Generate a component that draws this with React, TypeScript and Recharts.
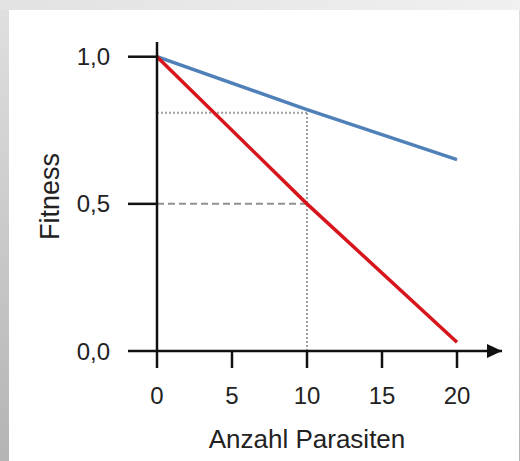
import React from 'react';
import { LineChart, Line, XAxis, YAxis, ReferenceLine, ReferenceDot, Label } from 'recharts';

// Anzahl Parasiten (x) und Fitness der beiden Wirte
const parasites = [0, 10, 20];
const fitnessTolerant = [1.0, 0.82, 0.65];
const fitnessSensitive = [1.0, 0.5, 0.03];

const xTicks = [0, 5, 10, 15, 20];
const yTicks = [0, 0.5, 1.0];
const yTickLabels = ['0,0', '0,5', '1,0'];

// Markierung bei 10 Parasiten
const markX = 10;
const markHigh = 0.81;
const markLow = 0.5;

const X_MAX = 23;
const Y_MAX = 1.05;

const FONT = '"Liberation Sans", Arial, Helvetica, sans-serif';
const AXIS = '#111';

const data = parasites.map((p, i) => ({
  x: p,
  tolerant: fitnessTolerant[i],
  sensitive: fitnessSensitive[i],
}));

const Arrow = (props: any) => {
  const { cx, cy } = props;
  return <polygon points={`${cx},${cy} ${cx - 15},${cy - 7} ${cx - 15},${cy + 7}`} fill={AXIS} />;
};

const XTitle = (props: any) => {
  const vb = props.viewBox;
  const x = vb.x + (vb.width * 10) / X_MAX;
  return (
    <text x={x} y={vb.y + 90} textAnchor="middle" dominantBaseline="middle" fontSize={26} fill="#222" fontFamily={FONT}>
      Anzahl Parasiten
    </text>
  );
};

export default function App() {
  return (
    <div style={{ position: 'absolute', left: 0, top: 0, width: 520, height: 461, background: 'linear-gradient(to bottom, #e0e0e0, #b4b4b4)' }}>
      <div style={{ position: 'absolute', left: 0, top: 0, width: 520, height: 10, background: 'linear-gradient(to right, #e2e2e2, #f0f0f0)' }} />
      <div style={{ position: 'absolute', left: 9, top: 10, width: 510, height: 451, background: '#fff' }} />
      <div style={{ position: 'absolute', left: 0, top: 0 }}>
        <LineChart width={520} height={461} data={data} margin={{ top: 42, right: 18, bottom: 0, left: 0 }}>
          <XAxis
            dataKey="x"
            type="number"
            domain={[0, X_MAX]}
            ticks={xTicks}
            allowDataOverflow
            height={110}
            tickSize={17}
            tickMargin={19}
            axisLine={{ stroke: AXIS, strokeWidth: 2.5 }}
            tickLine={{ stroke: AXIS, strokeWidth: 2.5 }}
            tick={{ fill: '#222', fontSize: 24, fontFamily: FONT }}
          >
            <Label content={<XTitle />} />
          </XAxis>
          <YAxis
            type="number"
            domain={[0, Y_MAX]}
            ticks={yTicks}
            allowDataOverflow
            width={157}
            tickSize={29}
            tickMargin={18}
            tickFormatter={(v: number) => yTickLabels[yTicks.indexOf(v)]}
            axisLine={{ stroke: AXIS, strokeWidth: 2.5 }}
            tickLine={{ stroke: AXIS, strokeWidth: 2.5 }}
            tick={{ fill: '#222', fontSize: 24, fontFamily: FONT }}
          >
            <Label
              value="Fitness"
              angle={-90}
              position="insideLeft"
              offset={49}
              style={{ textAnchor: 'middle', fontSize: 27, fill: '#222', fontFamily: FONT }}
            />
          </YAxis>
          <ReferenceLine
            segment={[{ x: 0, y: markHigh }, { x: markX, y: markHigh }]}
            stroke="#a0a0a0"
            strokeWidth={2}
            strokeDasharray="2 2"
          />
          <ReferenceLine
            segment={[{ x: markX, y: 0 }, { x: markX, y: markHigh }]}
            stroke="#a0a0a0"
            strokeWidth={2}
            strokeDasharray="2 2"
          />
          <ReferenceLine
            segment={[{ x: 0, y: markLow }, { x: markX, y: markLow }]}
            stroke="#909090"
            strokeWidth={2}
            strokeDasharray="7 4"
          />
          <Line type="linear" dataKey="tolerant" stroke="#5080b8" strokeWidth={3.5} dot={false} isAnimationActive={false} />
          <Line type="linear" dataKey="sensitive" stroke="#d6161c" strokeWidth={3.5} dot={false} isAnimationActive={false} />
          <ReferenceDot x={X_MAX} y={0} ifOverflow="visible" shape={<Arrow />} />
        </LineChart>
      </div>
    </div>
  );
}
